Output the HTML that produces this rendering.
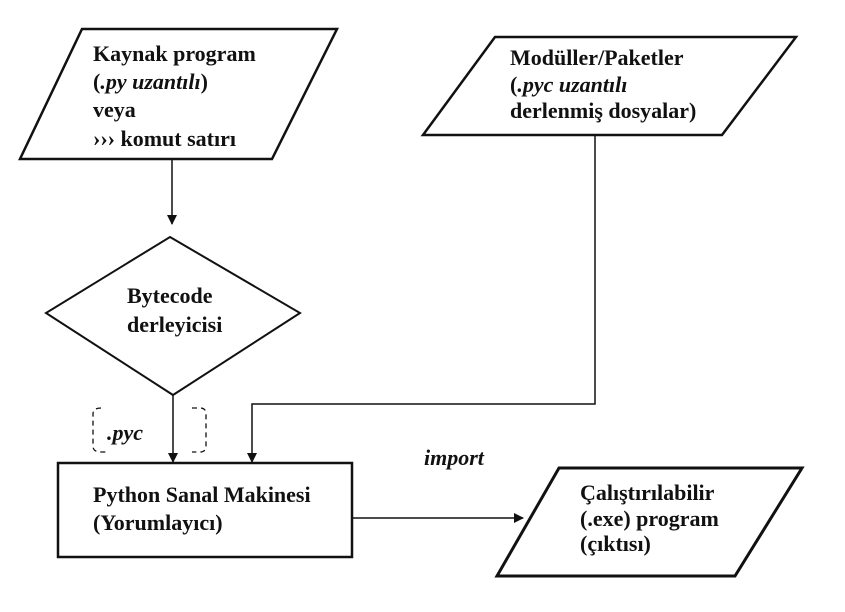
<!DOCTYPE html>
<html><head><meta charset="utf-8"><style>
html,body{margin:0;padding:0;background:#fff;}
svg text{font-family:"Liberation Serif",serif;font-weight:bold;font-size:22px;fill:#111;}
</style></head><body>
<svg width="845" height="607" viewBox="0 0 845 607" xmlns="http://www.w3.org/2000/svg">
<defs><marker id="a" markerWidth="10" markerHeight="10" refX="9" refY="5" orient="auto" markerUnits="userSpaceOnUse"><path d="M0,0 L10,5 L0,10 z" fill="#111"/></marker></defs>
<g fill="none" stroke="#111">
<polygon points="82,29 337,29 272,159 20,159" stroke-width="2.5"/>
<polygon points="495,37 796,37 722,135 423,135" stroke-width="2.5"/>
<polygon points="559,468 802,468 735,576 497,576" stroke-width="3"/>
<polygon points="170,237 300,313 173,395 46,313" stroke-width="2"/>
<rect x="58" y="463" width="294" height="94" stroke-width="2.5"/>
<line x1="172" y1="160" x2="172" y2="224" stroke-width="1.5" marker-end="url(#a)"/>
<line x1="173" y1="395" x2="173" y2="462" stroke-width="1.5" marker-end="url(#a)"/>
<polyline points="595,135 595,404 252,404 252,462" stroke-width="1.5" marker-end="url(#a)"/>
<line x1="352" y1="518" x2="523" y2="518" stroke-width="1.5" marker-end="url(#a)"/>
<path d="M101,408 Q93,408 93,414 L93,446 Q93,452 101,452 L108,452" stroke-width="1.3" stroke-dasharray="5,4"/>
<path d="M192,408 L200,408 Q206,408 206,414 L206,446 Q206,452 200,452 L192,452" stroke-width="1.3" stroke-dasharray="5,4"/>
</g>
<text x="93" y="61">Kaynak program</text>
<text x="93" y="89">(<tspan font-style="italic">.py uzantılı</tspan>)</text>
<text x="93" y="117">veya</text>
<text x="93" y="146">››› komut satırı</text>
<text x="510" y="65">Modüller/Paketler</text>
<text x="510" y="92">(<tspan font-style="italic">.pyc uzantılı</tspan></text>
<text x="510" y="118">derlenmiş dosyalar)</text>
<text x="127" y="303">Bytecode</text>
<text x="127" y="332">derleyicisi</text>
<text x="107" y="440" font-style="italic">.pyc</text>
<text x="424" y="465" font-style="italic">import</text>
<text x="93" y="502">Python Sanal Makinesi</text>
<text x="93" y="530">(Yorumlayıcı)</text>
<text x="580" y="500">Çalıştırılabilir</text>
<text x="580" y="526">(.exe) program</text>
<text x="580" y="551">(çıktısı)</text>
</svg>
</body></html>
